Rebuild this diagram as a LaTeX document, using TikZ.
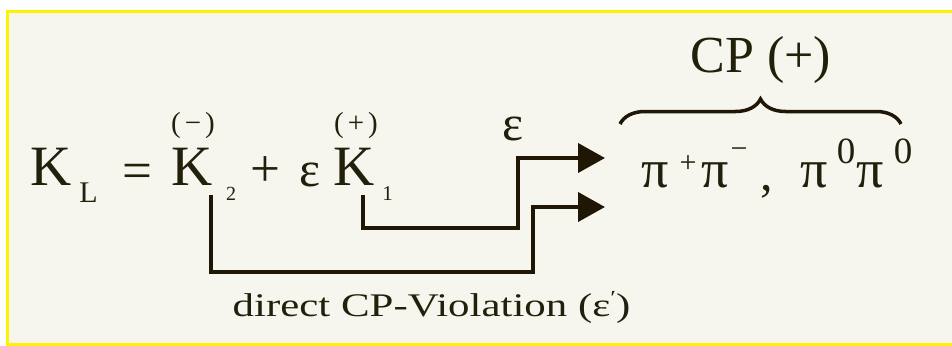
\documentclass[tikz,border=0pt]{standalone}
\usepackage{fontspec}
\usepackage{graphicx}
\setmainfont{Liberation Serif}
\usetikzlibrary{arrows.meta,decorations.pathreplacing}
\definecolor{txt}{HTML}{221F0A}
\definecolor{ink}{HTML}{1F1606}
\definecolor{bg}{HTML}{F6F5EE}
\definecolor{frame}{HTML}{FFF200}
\newcommand{\fs}[1]{\fontsize{#1}{#1}\selectfont}
\tikzset{
  lbl/.style={inner sep=0pt, outer sep=0pt, anchor=base, text=txt},
  wire/.style={draw=ink, line width=4pt, line join=miter},
  wirearrow/.style={wire, -{Triangle[length=27pt,width=29pt]}},
}
\begin{document}
\begin{tikzpicture}[x=1pt,y=1pt]
\useasboundingbox (0,0) rectangle (952,-345);
\begin{scope}
\clip (0,0) rectangle (952,-345);
\fill[bg] (7.5,-11.5) rectangle (970,-344);
\draw[frame, line width=3pt] (7.5,-11.5) rectangle (970,-344);
\end{scope}
% equation
\node[lbl] (kl) at (51,-185) {\fs{57}K};
\node[lbl] (subl) at (88.5,-202) {\fs{30}L};
\node[lbl] (eq) at (137,-188) {\fs{53}=};
\node[lbl] (k2) at (192,-185) {\fs{57}K};
\node[lbl] (sub2) at (231,-200) {\fs{20}2};
\node[lbl] (par2) at (193,-132) {\fs{29}(\hspace{4pt}−\hspace{4pt})};
\node[lbl] (plus) at (265,-186) {\fs{53}+};
\node[lbl] (epsa) at (310,-186) {\fs{50}ε};
\node[lbl] (k1) at (354,-185) {\fs{57}K};
\node[lbl] (sub1) at (387.5,-200) {\fs{21}1};
\node[lbl] (par1) at (356,-132) {\fs{29}(\hspace{4pt}+\hspace{4pt})};
% epsilon label
\node[lbl] (epsb) at (513,-140) {\fs{50}ε};
% final states
\node[lbl] (cp) at (761,-73) {\fs{52}CP (+)};
\node[lbl] (pi1) at (655,-187) {\fs{54}π};
\node[lbl] (sp1) at (688,-172) {\fs{30}+};
\node[lbl] (pi2) at (715,-187) {\fs{54}π};
\node[lbl] (sp2) at (739,-158) {\fs{30}−};
\node[lbl] (comma) at (767,-190) {\fs{50},};
\node[lbl] (pi3) at (814,-187) {\fs{54}π};
\node[lbl] (sp3) at (846,-163) {\fs{37}0};
\node[lbl] (pi4) at (870,-187) {\fs{54}π};
\node[lbl] (sp4) at (903,-163) {\fs{37}0};
\node[lbl] (direct) at (431.5,-316) {\scalebox{1.3}[1]{\fs{33}direct CP-Violation (ε\raisebox{0.35em}{\fs{20}′})}};
% brace
\coordinate (bl) at (620,-124);
\coordinate (br) at (901,-124);
\draw[ink, line width=3.5pt, decorate, decoration={brace, amplitude=25pt, aspect=0.5}] (bl) -- (br);
% connectors
\coordinate (s1) at (363,-195);
\coordinate (v1) at (518,-228);
\coordinate (t1) at (605,-158);
\coordinate (s2) at (210.5,-195);
\coordinate (v2) at (532.5,-272);
\coordinate (t2) at (605,-207);
\draw[wirearrow] (s1) |- (v1) |- (t1);
\draw[wirearrow] (s2) |- (v2) |- (t2);
\end{tikzpicture}
\end{document}
